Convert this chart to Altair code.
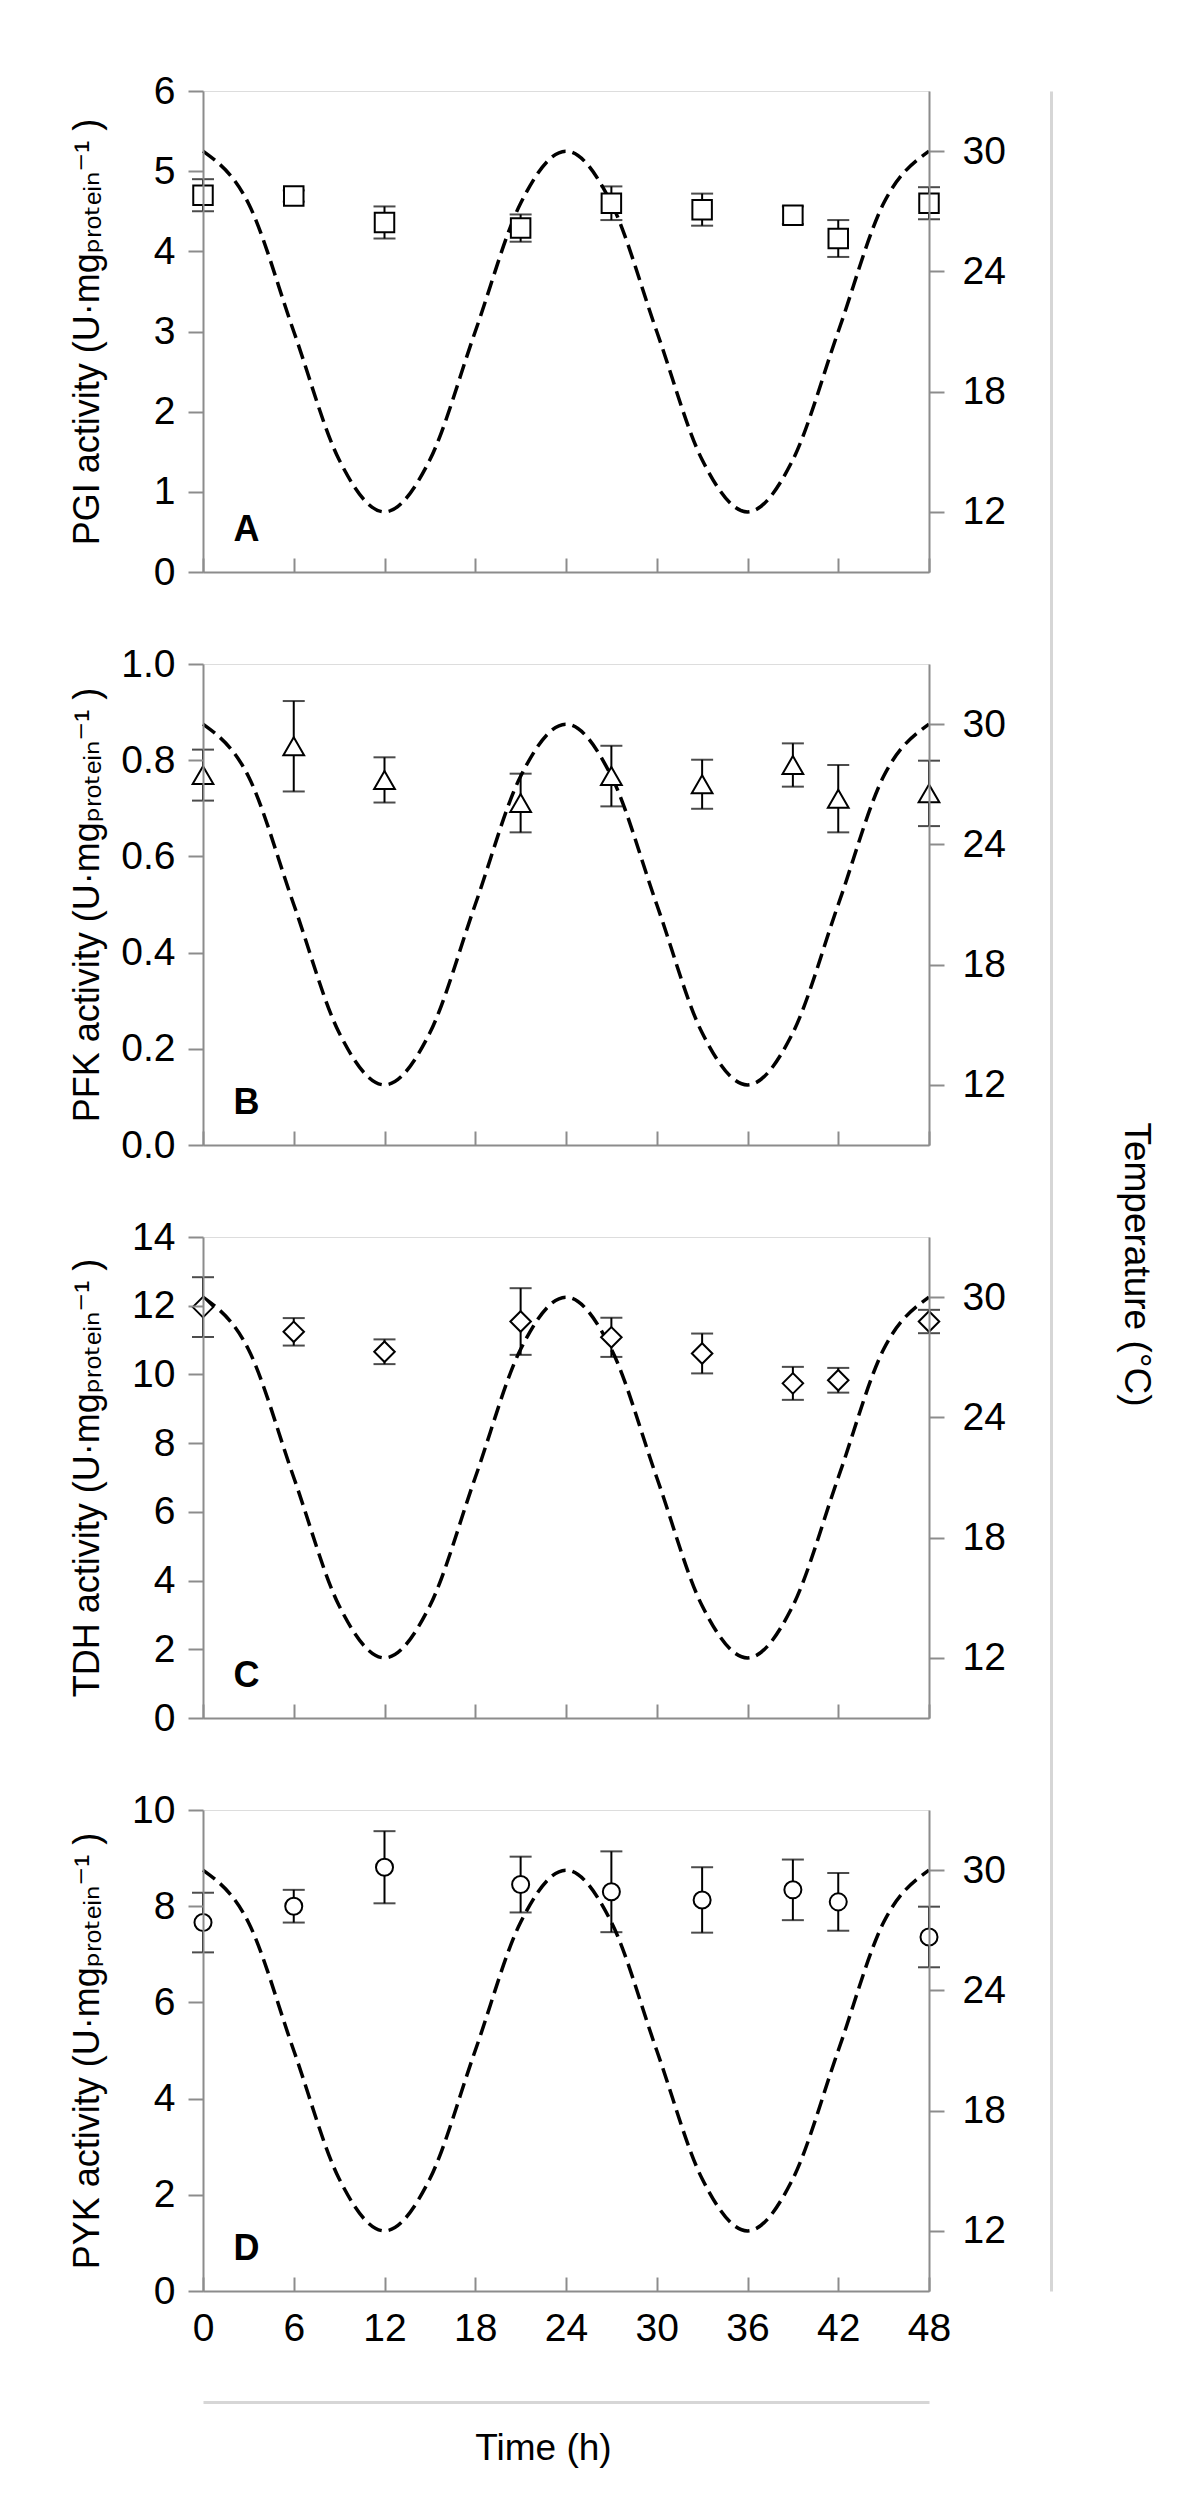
import altair as alt
import pandas as pd

# ---------------- data ----------------
hours = [0, 6, 12, 21, 27, 33, 39, 42, 48]

pgi = [4.70, 4.69, 4.36, 4.29, 4.60, 4.52, 4.45, 4.16, 4.60]
pgi_err = [0.20, 0.07, 0.20, 0.17, 0.21, 0.20, 0.11, 0.23, 0.20]

pfk = [0.769, 0.829, 0.759, 0.711, 0.767, 0.750, 0.790, 0.720, 0.731]
pfk_err = [0.053, 0.094, 0.047, 0.061, 0.063, 0.051, 0.045, 0.070, 0.068]

tdh = [11.96, 11.24, 10.66, 11.54, 11.08, 10.61, 9.74, 9.83, 11.54]
tdh_err = [0.87, 0.40, 0.36, 0.97, 0.57, 0.58, 0.48, 0.36, 0.34]

pyk = [7.66, 8.00, 8.81, 8.45, 8.30, 8.13, 8.34, 8.09, 7.36]
pyk_err = [0.62, 0.34, 0.75, 0.58, 0.84, 0.68, 0.63, 0.60, 0.63]

temp_hours = [0, 3, 6, 9, 12, 15, 18, 21, 24, 27, 30, 33, 36, 39, 42, 45, 48]
temp_values = [30, 27.4, 21, 14.6, 12, 14.6, 21, 27.4, 30, 27.4, 21, 14.6, 12, 14.6, 21, 27.4, 30]

x_ticks = [0, 6, 12, 18, 24, 30, 36, 42, 48]
temp_ticks = [12, 18, 24, 30]

titles = [
    "PGI activity (U·mgₚᵣₒₜₑᵢₙ⁻¹ )",
    "PFK activity (U·mgₚᵣₒₜₑᵢₙ⁻¹ )",
    "TDH activity (U·mgₚᵣₒₜₑᵢₙ⁻¹ )",
    "PYK activity (U·mgₚᵣₒₜₑᵢₙ⁻¹ )",
]
letters = ["A", "B", "C", "D"]

# ---------------- styling ----------------
FONT = "Liberation Sans, Arial, DejaVu Sans, sans-serif"
W, H = 726, 481
GRAY = "#8c8c8c"
LIGHT = "#d6d6d6"
TICKFS = 39


def panel(vals, errs, shape, size, ymax, yvalues, yfmt, title, letter,
          ext_top, ext_bot, bottom=False, temp_title=False):
    df = pd.DataFrame({"t": hours, "v": vals,
                       "lo": [v - e for v, e in zip(vals, errs)],
                       "hi": [v + e for v, e in zip(vals, errs)]})
    caps = pd.DataFrame({"t": hours + hours,
                         "c": list(df["lo"]) + list(df["hi"])})
    temp = pd.DataFrame({"h": temp_hours, "T": temp_values})

    xs = alt.Scale(domain=[0, 48], nice=False, zero=False)
    ys = alt.Scale(domain=[0, ymax], nice=False, zero=False)

    x_inner = alt.Axis(orient="top", offset=-H, values=x_ticks, labels=False,
                       ticks=True, tickSize=14, tickWidth=2, tickColor=GRAY,
                       domain=True, domainColor=GRAY, domainWidth=2,
                       title=None, grid=False, zindex=1)
    y_left = alt.Axis(orient="left", values=yvalues, format=yfmt,
                      tickSize=15, tickWidth=2, tickColor=GRAY,
                      domainColor=GRAY, domainWidth=2, labelPadding=13,
                      labelFontSize=TICKFS, labelColor="black", grid=False,
                      title=title, titleFontSize=36, titleFontWeight="normal",
                      titleAngle=270, titleAlign="center",
                      titleBaseline="alphabetic", titleX=-105, titleY=H / 2,
                      titleColor="black", zindex=1)
    y_right = alt.Axis(orient="right", values=temp_ticks, format="d",
                       tickSize=15, tickWidth=2, tickColor=GRAY,
                       domainColor=GRAY, domainWidth=2, labelPadding=18,
                       labelFontSize=TICKFS, labelColor="black", grid=False,
                       title=None, zindex=1)

    if bottom:
        x_labels = alt.Axis(orient="bottom", values=x_ticks, domain=False,
                            ticks=False, tickSize=0, labelPadding=18,
                            labelFontSize=TICKFS, labelColor="black",
                            labelFlush=False, labelOverlap=False,
                            title=None, grid=False)
        x_time = alt.Axis(orient="bottom", offset=111, domain=True,
                          domainColor=LIGHT, domainWidth=3, ticks=False,
                          labels=False, grid=False, title="Time (h)",
                          titleFontSize=37, titleFontWeight="normal",
                          titleColor="black", titleAlign="center",
                          titleBaseline="alphabetic", titleX=340, titleY=57)
    else:
        x_labels = None
        x_time = None

    if temp_title:
        long_axis = alt.Axis(orient="right", offset=122, domain=True,
                             domainColor=LIGHT, domainWidth=3, ticks=False,
                             labels=False, grid=False,
                             title="Temperature (°C)", titleFontSize=37,
                             titleFontWeight="normal", titleColor="black",
                             titleAngle=90, titleAlign="center",
                             titleBaseline="alphabetic", titleX=73, titleY=600)
    else:
        long_axis = alt.Axis(orient="right", offset=122, domain=True,
                             domainColor=LIGHT, domainWidth=3, ticks=False,
                             labels=False, grid=False, title=None)

    curve = alt.Chart(temp).mark_line(
        color="black", strokeWidth=3.5, strokeDash=[15, 7], interpolate="monotone"
    ).encode(
        x=alt.X("h:Q", scale=xs, axis=x_labels),
        y=alt.Y("T:Q", scale=alt.Scale(domain=[9, 33], nice=False, zero=False),
                axis=y_right),
    )

    bars = alt.Chart(df).mark_rule(color="black", strokeWidth=2).encode(
        x=alt.X("t:Q", scale=xs, axis=x_inner),
        y=alt.Y("lo:Q", scale=ys, axis=y_left),
        y2="hi:Q",
    )

    capmarks = alt.Chart(caps).mark_tick(
        color="black", thickness=2, size=22, orient="horizontal"
    ).encode(
        x=alt.X("t:Q", scale=xs, axis=x_time),
        y=alt.Y("c:Q", scale=ys, axis=None),
    )

    points = alt.Chart(df).mark_point(
        shape=shape, size=size, filled=True, fill="white", stroke="black",
        strokeWidth=2, opacity=1
    ).encode(
        x=alt.X("t:Q", scale=xs, axis=None),
        y=alt.Y("v:Q", scale=ys, axis=None),
    )

    label = alt.Chart(pd.DataFrame({"lab": [letter]})).mark_text(
        font=FONT, fontSize=36, fontWeight="bold", align="center",
        baseline="alphabetic", color="black"
    ).encode(text="lab:N", x=alt.value(43.5), y=alt.value(450))

    long_line = alt.Chart(pd.DataFrame({"g": [0]})).mark_point(opacity=0).encode(
        y=alt.Y("g:Q", scale=alt.Scale(domain=[0, 1], range=[H + ext_bot, -ext_top]),
                axis=long_axis),
    )

    return alt.layer(curve, bars, capmarks, points, label, long_line).resolve_scale(
        y="independent"
    ).resolve_axis(x="independent", y="independent").properties(width=W, height=H)


pA = panel(pgi, pgi_err, "square", 380, 6, [0, 1, 2, 3, 4, 5, 6], "d",
           titles[0], letters[0], 0, 47)
pB = panel(pfk, pfk_err, "triangle-up", 430, 1.0, [0, 0.2, 0.4, 0.6, 0.8, 1.0], ".1f",
           titles[1], letters[1], 47, 47, temp_title=True)
pC = panel(tdh, tdh_err, "diamond", 420, 14, [0, 2, 4, 6, 8, 10, 12, 14], "d",
           titles[2], letters[2], 47, 47)
pD = panel(pyk, pyk_err, "circle", 290, 10, [0, 2, 4, 6, 8, 10], "d",
           titles[3], letters[3], 47, 0, bottom=True)

chart = alt.vconcat(pA, pB, pC, pD, spacing=92, bounds="flush").properties(
    padding={"left": 60, "top": 63, "right": 5, "bottom": 5}
).configure_view(stroke=None).configure_axis(
    labelFont=FONT, titleFont=FONT, grid=False
).configure(font=FONT)

chart.save("out.html", embed_options={"renderer": "svg", "actions": False})
